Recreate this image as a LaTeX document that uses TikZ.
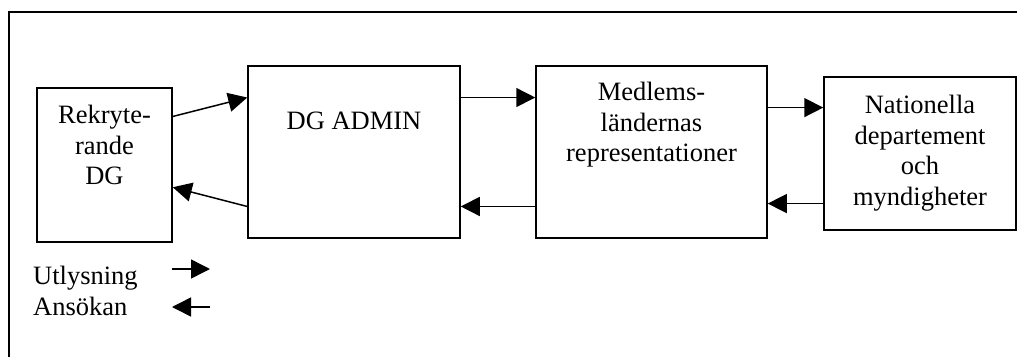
\documentclass[tikz,border=0pt]{standalone}
\usepackage{fontspec}
\setmainfont{Liberation Serif}
\usetikzlibrary{calc,arrows.meta}

\begin{document}
\begin{tikzpicture}[x=1pt, y=-1pt,
    box/.style={draw=black, line width=1.5pt, rectangle, inner sep=0pt},
    boxtext/.style={anchor=north, align=center, inner sep=0pt, font=\fontsize{26.5}{30.5}\selectfont},
    legtext/.style={anchor=base west, inner sep=0pt, font=\fontsize{26.5}{30.5}\selectfont},
    flow/.style={line width=1.5pt, -{Triangle[length=19pt, width=19pt]}}]

  % Canvas
  \useasboundingbox (0,0) rectangle (1017,356);
  \fill[white] (0,0) rectangle (1017,356);
  \draw[black, line width=2.5pt] (9,360) -- (9,12) -- (1020,12);

  % ==================== 1. BOXES ====================
  \node[box, minimum width=135pt, minimum height=154pt] (rek) at (104.5,165) {};
  \node[box, minimum width=212pt, minimum height=172pt] (dg) at (354,152) {};
  \node[box, minimum width=231pt, minimum height=172pt] (med) at (651.5,152) {};
  \node[box, minimum width=192pt, minimum height=153pt] (nat) at (920,153.5) {};

  % Box texts
  \node[boxtext] (rektext) at (104.5,105) {Rekryte-\\rande\\DG};
  \node[boxtext] (dgtext) at (354,112) {DG ADMIN};
  \node[boxtext] (medtext) at (651.5,82) {Medlems-\\ländernas\\representationer};
  \node[boxtext] (nattext) at (920,95) {Nationella\\departement\\och\\myndigheter};

  % ==================== 2. FLOWS ====================
  \draw[flow] ($(rek.north east)!0.188!(rek.south east)$) -- ($(dg.north west)!0.186!(dg.south west)$);
  \draw[flow] ($(dg.north west)!0.814!(dg.south west)$) -- ($(rek.north east)!0.643!(rek.south east)$);

  \draw[flow] ($(dg.north east)!0.186!(dg.south east)$) coordinate (p1) -- (p1 -| med.west);
  \draw[flow] ($(med.north west)!0.814!(med.south west)$) coordinate (p2) -- (p2 -| dg.east);

  \draw[flow] ($(med.north east)!0.244!(med.south east)$) coordinate (p3) -- (p3 -| nat.west);
  \draw[flow] ($(nat.north west)!0.824!(nat.south west)$) coordinate (p4) -- (p4 -| med.east);

  % ==================== 3. LEGEND ====================
  \node[legtext] (utl) at (33,284) {Utlysning};
  \node[legtext] (ans) at (33,315) {Ansökan};
  \coordinate (u1) at (172,269);
  \coordinate (u2) at (210,269);
  \coordinate (a1) at (210,307);
  \coordinate (a2) at (172,307);
  \draw[flow] (u1) -- (u2);
  \draw[flow] (a1) -- (a2);

\end{tikzpicture}
\end{document}
